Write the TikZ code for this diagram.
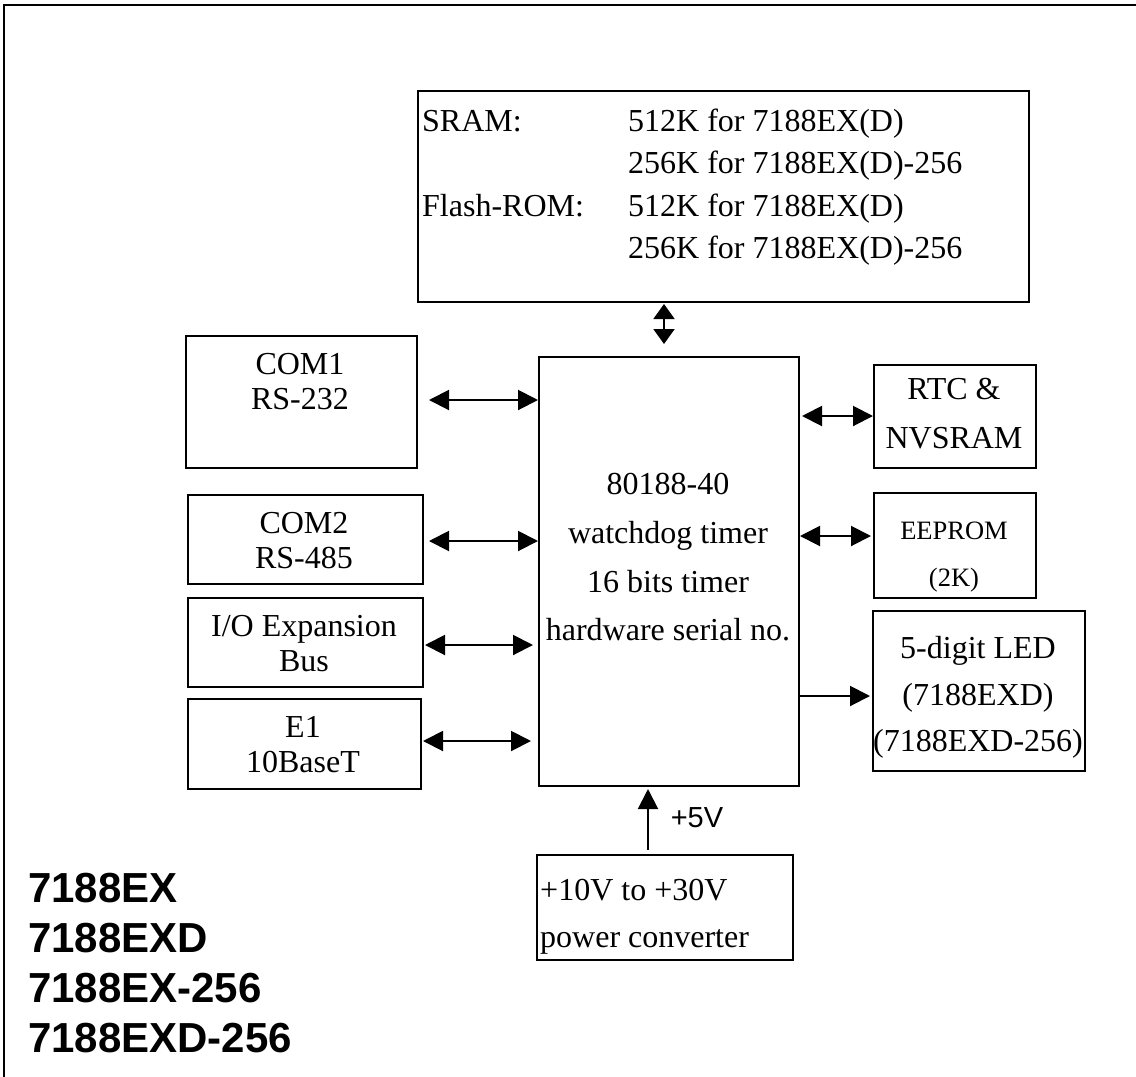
\documentclass[tikz,border=0pt]{standalone}
\usepackage{fontspec}
\setmainfont{Liberation Serif}
\setsansfont{Liberation Sans}
\usetikzlibrary{arrows.meta}
\begin{document}
\begin{tikzpicture}[x=1pt,y=-1pt,
  box/.style={draw, line width=2pt, inner sep=0pt, anchor=north west},
  txt/.style={inner sep=0pt, font=\fontsize{32}{40}\selectfont},
  stxt/.style={inner sep=0pt, font=\fontsize{26.5}{34}\selectfont},
  model/.style={inner sep=0pt, anchor=base west, font=\sffamily\bfseries\fontsize{42}{50}\selectfont},
  dbl/.style={line width=2pt, {Triangle[length=20pt,width=20pt]}-{Triangle[length=20pt,width=20pt]}},
  sgl/.style={line width=2pt, -{Triangle[length=20pt,width=20pt]}},
  vdbl/.style={line width=2pt, {Triangle[length=15pt,width=21pt]}-{Triangle[length=15pt,width=21pt]}}]
\useasboundingbox (0,0) rectangle (1136,1077);
% outer frame
\draw[line width=2pt] (4,1077) -- (4,5) -- (1136,5);
% boxes
\node[box, minimum width=611pt, minimum height=211pt] (sram) at (417,90) {};
\node[box, minimum width=260pt, minimum height=429pt] (cpu) at (538,356) {};
\node[box, minimum width=231pt, minimum height=132pt] (com1) at (185,335) {};
\node[box, minimum width=235pt, minimum height=89pt] (com2) at (187,494) {};
\node[box, minimum width=235pt, minimum height=89pt] (io) at (187,597) {};
\node[box, minimum width=233pt, minimum height=90pt] (e1) at (187,698) {};
\node[box, minimum width=162pt, minimum height=103pt] (rtc) at (873,364) {};
\node[box, minimum width=162pt, minimum height=105pt] (eeprom) at (873,492) {};
\node[box, minimum width=212pt, minimum height=160pt] (led) at (872,610) {};
\node[box, minimum width=256pt, minimum height=105pt] (power) at (536,854) {};
% SRAM text
\node[txt, anchor=base west] (t1) at (422,131) {SRAM:};
\node[txt, anchor=base west] (t2) at (628,131) {512K for 7188EX(D)};
\node[txt, anchor=base west] (t3) at (628,173) {256K for 7188EX(D)-256};
\node[txt, anchor=base west] (t4) at (422,216) {Flash-ROM:};
\node[txt, anchor=base west] (t5) at (628,216) {512K for 7188EX(D)};
\node[txt, anchor=base west] (t6) at (628,258) {256K for 7188EX(D)-256};
% left boxes text
\node[txt, anchor=base] (c1a) at (300,374) {COM1};
\node[txt, anchor=base] (c1b) at (300,409) {RS-232};
\node[txt, anchor=base] (c2a) at (304,533) {COM2};
\node[txt, anchor=base] (c2b) at (304,568) {RS-485};
\node[txt, anchor=base] (ioa) at (304,636) {I/O Expansion};
\node[txt, anchor=base] (iob) at (304,671) {Bus};
\node[txt, anchor=base] (e1a) at (303,737) {E1};
\node[txt, anchor=base] (e1b) at (303,772) {10BaseT};
% CPU text
\node[txt, anchor=base] (p1) at (668,494) {80188-40};
\node[txt, anchor=base] (p2) at (668,543) {watchdog timer};
\node[txt, anchor=base] (p3) at (668,592) {16 bits timer};
\node[txt, anchor=base] (p4) at (668,640) {hardware serial no.};
% right boxes text
\node[txt, anchor=base] (r1) at (954,399) {RTC \&};
\node[txt, anchor=base] (r2) at (954,448) {NVSRAM};
\node[stxt, anchor=base] (ee1) at (954,539) {EEPROM};
\node[stxt, anchor=base] (ee2) at (954,586) {(2K)};
\node[txt, anchor=base] (l1) at (978,658) {5-digit LED};
\node[txt, anchor=base] (l2) at (978,705) {(7188EXD)};
\node[txt, anchor=base] (l3) at (978,751) {(7188EXD-256)};
% power text
\node[txt, anchor=base west] (pw1) at (540,900) {+10V to +30V};
\node[txt, anchor=base west] (pw2) at (540,947) {power converter};
\node[inner sep=0pt, anchor=base, font=\sffamily\fontsize{29}{34}\selectfont] (v5) at (697,827) {+5V};
% model names
\node[model] (m1) at (28,902) {7188EX};
\node[model] (m2) at (28,952) {7188EXD};
\node[model] (m3) at (28,1002) {7188EX-256};
\node[model] (m4) at (28,1052) {7188EXD-256};
% connectors
\draw[vdbl] ([yshift=-1pt]sram.south -| 664,0) -- ([yshift=12pt]cpu.north -| 664,0);
\draw[dbl] ([xshift=11pt]com1.east |- 0,400) -- (cpu.west |- 0,400);
\draw[dbl] ([xshift=5pt]com2.east |- 0,541) -- (cpu.west |- 0,541);
\draw[dbl] ([xshift=1pt]io.east |- 0,645) -- ([xshift=-5pt]cpu.west |- 0,645);
\draw[dbl] ([xshift=1pt]e1.east |- 0,741) -- ([xshift=-7pt]cpu.west |- 0,741);
\draw[dbl] ([xshift=2pt]cpu.east |- 0,416) -- (rtc.west |- 0,416);
\draw[dbl] (cpu.east |- 0,536) -- ([xshift=-2pt]eeprom.west |- 0,536);
\draw[sgl] (cpu.east |- 0,696) -- ([xshift=-2pt]led.west |- 0,696);
\draw[sgl] ([yshift=4pt]power.north -| 648,0) -- ([yshift=-2pt]cpu.south -| 648,0);
\end{tikzpicture}
\end{document}
